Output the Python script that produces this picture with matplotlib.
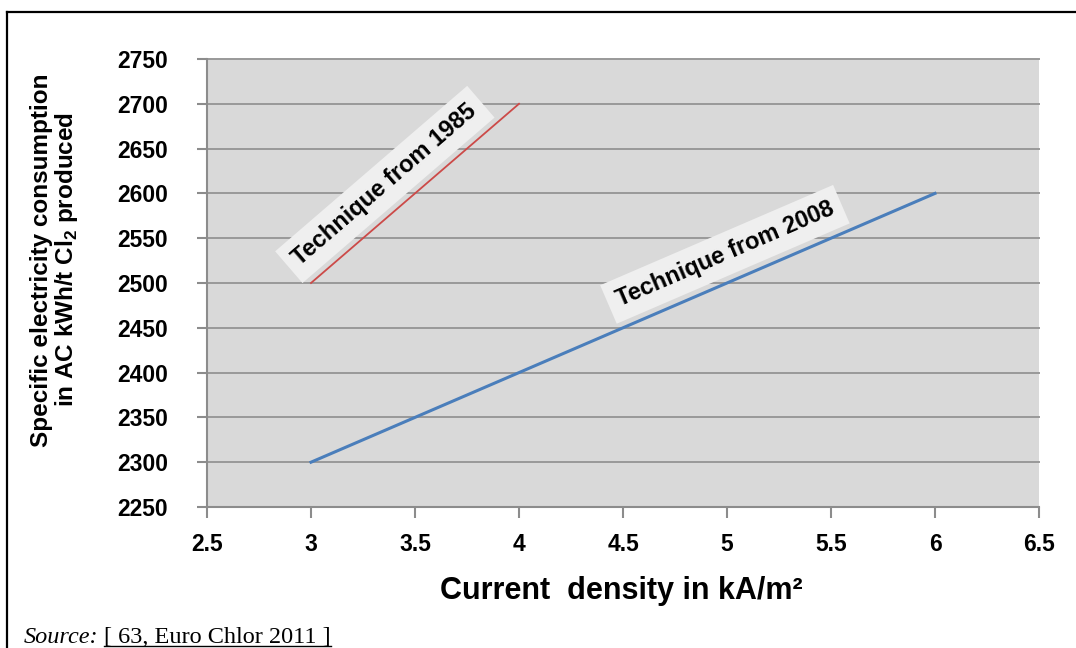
import numpy as np
import matplotlib.pyplot as plt
from matplotlib.lines import Line2D

# ---------------- data ----------------
density_1985 = [3, 4]
energy_1985 = [2500, 2700]
density_2008 = [3, 6]
energy_2008 = [2300, 2600]

x_ticks = [2.5, 3, 3.5, 4, 4.5, 5, 5.5, 6, 6.5]
y_ticks = [2250, 2300, 2350, 2400, 2450, 2500, 2550, 2600, 2650, 2700, 2750]

label_1985 = "Technique from 1985"
label_2008 = "Technique from 2008"
y_title = "Specific electricity consumption\nin AC kWh/t Cl$_2$ produced"
x_title = "Current  density in kA/m\u00b2"

# ---------------- style ----------------
plt.rcParams["font.family"] = ["Liberation Sans", "DejaVu Sans"]
plt.rcParams["mathtext.fontset"] = "custom"
plt.rcParams["mathtext.rm"] = "Liberation Sans:bold"
plt.rcParams["mathtext.bf"] = "Liberation Sans:bold"

W, H = 1076, 648
fig = plt.figure(figsize=(W / 100, H / 100), dpi=100)
ax = fig.add_axes([207 / W, 1 - 507 / H, (1039 - 207) / W, (507 - 59) / H])
ax.set_facecolor("#d9d9d9")

ax.set_xlim(2.5, 6.5)
ax.set_ylim(2250, 2750)
ax.set_xticks(x_ticks)
ax.set_xticklabels([f"{v:g}" for v in x_ticks])
ax.set_yticks(y_ticks)

ax.yaxis.grid(True, color="#999999", lw=1.4)
ax.set_axisbelow(True)
for gl in ax.get_ygridlines():
    gl.set_clip_on(False)

for side in ["top", "right"]:
    ax.spines[side].set_visible(False)
for side in ["left", "bottom"]:
    ax.spines[side].set_color("#8c8c8c")
    ax.spines[side].set_linewidth(1.5)

ax.tick_params(axis="x", length=8, width=1.5, color="#8c8c8c", pad=11, labelsize=16.5)
ax.tick_params(axis="y", length=7, width=1.5, color="#8c8c8c", pad=21, labelsize=16.5)
for lbl in ax.get_xticklabels() + ax.get_yticklabels():
    lbl.set_fontweight("bold")

# ---------------- lines ----------------
ax.plot(density_1985, energy_1985, color="#cc4a48", lw=1.3, zorder=5)
ax.plot(density_2008, energy_2008, color="#4a7ebb", lw=2.2, zorder=5)

# labels along the lines (angle given in data space)
ang_1985 = np.degrees(np.arctan2(energy_1985[1] - energy_1985[0], density_1985[1] - density_1985[0]))
ang_2008 = np.degrees(np.arctan2(energy_2008[1] - energy_2008[0], density_2008[1] - density_2008[0]))
box = dict(boxstyle="square,pad=0.4", fc="#efefef", ec="none")
ax.text(3.355, 2610, label_1985, rotation=ang_1985, rotation_mode="anchor",
        transform_rotates_text=True, ha="center", va="center",
        fontsize=17, fontweight="bold", bbox=box, zorder=4)
ax.text(4.99, 2532, label_2008, rotation=ang_2008, rotation_mode="anchor",
        transform_rotates_text=True, ha="center", va="center",
        fontsize=17, fontweight="bold", bbox=box, zorder=4)

# ---------------- axis titles ----------------
fig.text(55 / W, 1 - 260 / H, y_title, rotation=90, ha="center", va="center",
         fontsize=17.5, fontweight="bold", linespacing=1.0, multialignment="center")
fig.text(621 / W, 1 - 591 / H, x_title, ha="center", va="center",
         fontsize=22, fontweight="bold")

# ---------------- source line ----------------
src = fig.text(24 / W, 1 - 643 / H, "Source:", family="Liberation Serif",
               style="italic", fontsize=17.5, va="baseline")
ref = ax.annotate("[ 63, Euro Chlor 2011 ]", xy=(1, 0), xycoords=src,
                  xytext=(4, 0), textcoords="offset points", va="bottom",
                  family="Liberation Serif", fontsize=17.5, annotation_clip=False)

fig.canvas.draw()
bb = ref.get_window_extent()
inv = fig.transFigure.inverted()
(x0, y0), (x1, _) = inv.transform([[bb.x0, bb.y0 + 2], [bb.x1, bb.y0 + 2]])
fig.add_artist(Line2D([x0, x1], [y0, y0], transform=fig.transFigure, color="black", lw=1))

# ---------------- page frame ----------------
fig.add_artist(Line2D([7 / W, 1], [1 - 12 / H, 1 - 12 / H], transform=fig.transFigure, color="black", lw=1.6))
fig.add_artist(Line2D([7 / W, 7 / W], [0, 1 - 12 / H], transform=fig.transFigure, color="black", lw=1.6))

fig.savefig("out.png", dpi=100)
